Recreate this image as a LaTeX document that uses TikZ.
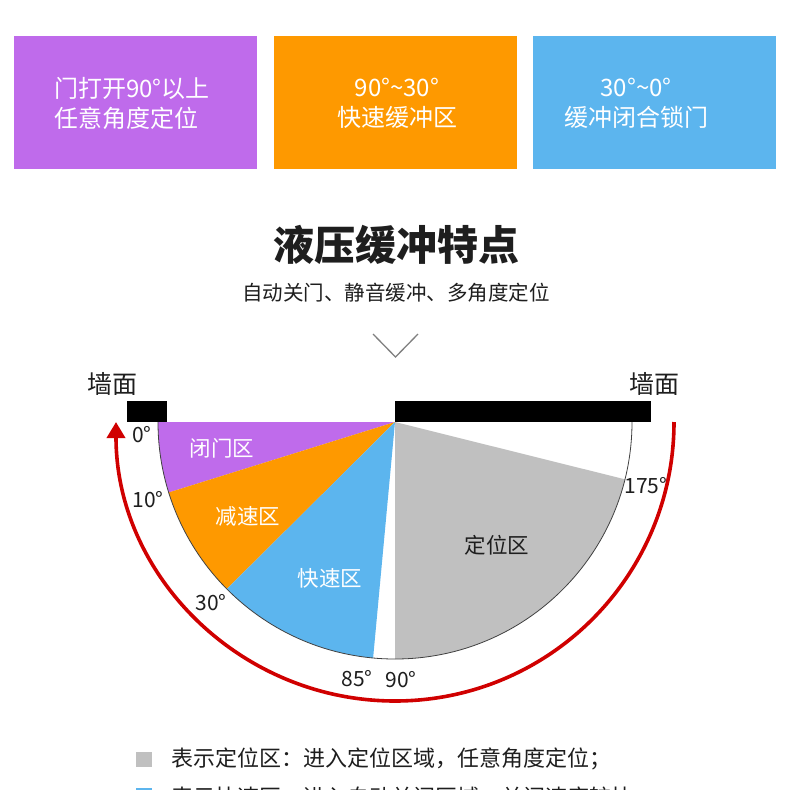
\documentclass[tikz,border=0pt]{standalone}
\usepackage{fontspec}
\setmainfont{Noto Sans CJK SC}
\usetikzlibrary{arrows.meta}
\definecolor{cpurple}{RGB}{191,107,235}
\definecolor{corange}{RGB}{254,153,0}
\definecolor{cblue}{RGB}{92,181,238}
\definecolor{cgray}{RGB}{192,192,192}
\definecolor{cred}{RGB}{208,0,0}
\definecolor{ctext}{RGB}{30,30,30}
\newcommand{\tld}{{\char"7E}}
\begin{document}
\begin{tikzpicture}[x=1pt,y=1pt,
  topbox/.style={minimum width=243pt,minimum height=133pt,inner sep=0pt,draw=none},
  boxtext/.style={text=white,font=\fontsize{24}{30}\selectfont,inner sep=0pt,align=center},
  zonelbl/.style={font=\fontsize{21.5}{24}\selectfont,inner sep=0pt},
  deglbl/.style={font=\fontsize{21}{24}\selectfont,inner sep=0pt,text=ctext},
  walllbl/.style={font=\fontsize{25}{28}\selectfont,inner sep=0pt,text=ctext},
  wallbar/.style={fill=black},
  legtext/.style={font=\fontsize{22}{26}\selectfont,inner sep=0pt,anchor=west,text=ctext}]
\useasboundingbox (0,0) rectangle (790,-790);
\fill[white] (0,0) rectangle (790,-790);
% top boxes
\node[topbox,fill=cpurple] (b1) at (135.5,-102) {};
\node[topbox,fill=corange] (b2) at (395.5,-102) {};
\node[topbox,fill=cblue]   (b3) at (654.5,-102) {};
\node[boxtext,align=left] (t1) at (132,-103) {门打开90°以上\\任意角度定位};
\node[boxtext] (t2) at (397,-103) {90°\tld30°\\快速缓冲区};
\node[boxtext] (t3) at (636,-103) {30°\tld0°\\缓冲闭合锁门};
% title
\node[font=\fontsize{41}{45}\selectfont\bfseries,inner sep=0pt,text=ctext] (title) at (396,-245) {液压缓冲特点};
\node[font=\fontsize{20.5}{24}\selectfont,inner sep=0pt,text=ctext] (sub) at (396,-293) {自动关门、静音缓冲、多角度定位};
\coordinate (v1) at (373,-334);
\coordinate (v2) at (395.5,-357);
\coordinate (v3) at (418,-334);
\draw[gray,line width=1.3pt] (v1) -- (v2) -- (v3);
% fan
\coordinate (O) at (395,-422);
\fill[cpurple] (O) -- ++(180:237) arc[start angle=180,end angle=197.3,radius=237] -- cycle;
\fill[corange] (O) -- ++(197.3:237) arc[start angle=197.3,end angle=224.8,radius=237] -- cycle;
\fill[cblue] (O) -- ++(224.8:237) arc[start angle=224.8,end angle=264.7,radius=237] -- cycle;
\fill[cgray] (O) -- ++(270:237) arc[start angle=270,end angle=346,radius=237] -- cycle;
\draw[black!75,line width=0.8pt] (O) ++(180:237) arc[start angle=180,end angle=360,radius=237];
% walls
\fill[wallbar] (127,-401) rectangle (167,-422);
\fill[wallbar] (395,-401) rectangle (651,-422);
\node[walllbl] (w1) at (112,-384) {墙面};
\node[walllbl] (w2) at (654,-384) {墙面};
% red arrow
\draw[cred,line width=3.6pt,-{Triangle[length=16pt,width=18pt]}] (O) ++(0:279) arc[start angle=0,end angle=-180,radius=279];
% zone labels
\node[zonelbl,text=white] (z1) at (222,-448) {闭门区};
\node[zonelbl,text=white] (z2) at (248,-516) {减速区};
\node[zonelbl,text=white] (z3) at (330,-578) {快速区};
\node[zonelbl,text=ctext] (z4) at (497,-545) {定位区};
% degree labels
\node[deglbl] (d0) at (142,-435) {0°};
\node[deglbl] (d10) at (148,-500) {10°};
\node[deglbl] (d30) at (211,-603) {30°};
\node[deglbl] (d85) at (357,-679) {85°};
\node[deglbl] (d90) at (401,-680) {90°};
\node[deglbl] (d175) at (646,-486) {175°};
% legend
\fill[cgray] (136,-752) rectangle (152,-767);
\node[legtext] (l1) at (171,-759) {表示定位区：进入定位区域，任意角度定位；};
\fill[cblue] (136,-788) rectangle (152,-803);
\node[legtext] (l2) at (171,-797) {表示快速区：进入自动关闭区域，关闭速度较快};
\end{tikzpicture}
\end{document}
